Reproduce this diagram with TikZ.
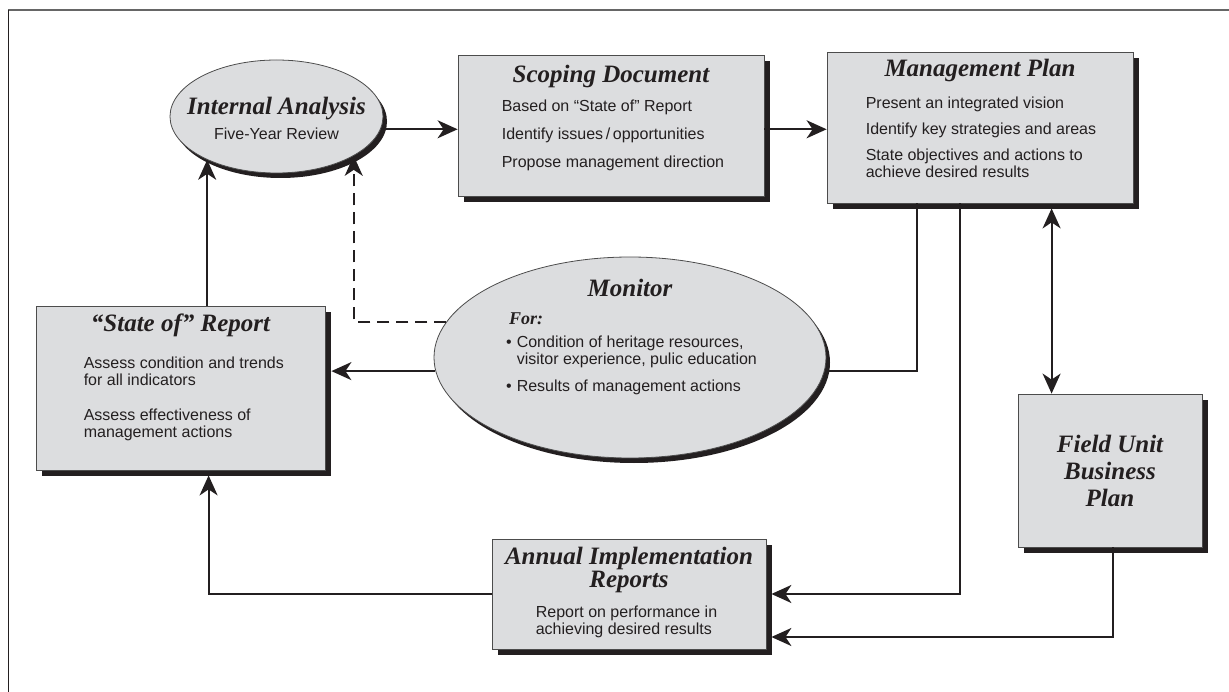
\documentclass[tikz,border=0pt]{standalone}
\usepackage{fontspec}
\setmainfont{Liberation Serif}
\setsansfont{Liberation Sans}
\usetikzlibrary{arrows.meta,shapes.geometric,shadows,positioning}
\definecolor{boxgray}{HTML}{DCDDDF}
\definecolor{inkblack}{HTML}{231F20}
\newcommand{\headfont}{\fontsize{25}{27}\selectfont\rmfamily\itshape\bfseries}
\newcommand{\bodyfont}{\fontsize{16}{17}\selectfont\sffamily}
\tikzset{every node/.append style={inner sep=0pt, text=inkblack}}

\begin{document}
\begin{tikzpicture}[x=1pt,y=-1pt,
  plate/.style={draw=black!70, line width=0.8pt, fill=boxgray},
  box/.style={plate, drop shadow={shadow xshift=6pt,shadow yshift=-6pt,fill=inkblack,opacity=1}},
  oval/.style={ellipse, plate, drop shadow={shadow xshift=4pt,shadow yshift=-5pt,fill=inkblack,opacity=1}},
  head/.style={font=\headfont},
  body/.style={font=\bodyfont, align=left},
  link/.style={draw=inkblack, line width=2pt},
  arr/.style={link, -{Stealth[length=20pt,width=18pt,inset=6pt]}},
  arrboth/.style={link, {Stealth[length=20pt,width=18pt,inset=6pt]}-{Stealth[length=20pt,width=18pt,inset=6pt]}},
  dasharr/.style={arr, dash pattern=on 12pt off 7pt}]
  \useasboundingbox (0,0) rectangle (1229,692);

  % frame
  \draw[black!60, line width=1.6pt] (8,10) -- (1229,10);
  \draw[inkblack, line width=1.2pt] (8.5,10) -- (8.5,692);

  % shapes
  \node[oval, minimum width=213pt, minimum height=113pt] (ia) at (276.5,116.5) {};
  \node[box, minimum width=306pt, minimum height=141pt] (sd) at (611,125.5) {};
  \node[box, minimum width=306pt, minimum height=151pt] (mp) at (980,127.5) {};
  \node[box, minimum width=289pt, minimum height=164pt] (st) at (180.5,388) {};
  \node[oval, minimum width=392pt, minimum height=201pt] (mon) at (630,357.5) {};
  \node[box, minimum width=274pt, minimum height=110pt] (ann) at (629,594) {};
  \node[box, minimum width=184pt, minimum height=153pt, head, align=center] (fu) at (1110,470.5)
       {Field Unit\\Business\\Plan};

  % texts
  \node[head, anchor=base] (iahead) at ([yshift=1.5pt]ia.center) {Internal Analysis};
  \node[body, anchor=base] (iabody) at ([yshift=-23.5pt]ia.center) {Five-Year Review};

  \node[head, anchor=base] (sdhead) at ([yshift=-28pt]sd.north) {Scoping Document};
  \node[body, anchor=north west] (sdbody) at ([xshift=44pt,yshift=-45pt]sd.north west)
       {Based on “State of” Report\\[11pt]Identify issues\,/\,opportunities\\[11pt]Propose management direction};

  \node[head, anchor=base] (mphead) at ([yshift=-25pt]mp.north) {Management Plan};
  \node[body, anchor=north west] (mpbody) at ([xshift=39pt,yshift=-45pt]mp.north west)
       {Present an integrated vision\\[9pt]Identify key strategies and areas\\[9pt]State objectives and actions to\\achieve desired results};

  \node[head, anchor=base] (sthead) at ([yshift=-26pt]st.north) {“State of” Report};
  \node[body, anchor=north west] (stbody) at ([xshift=48pt,yshift=-51pt]st.north west)
       {Assess condition and trends\\for all indicators\\[18pt]Assess effectiveness of\\management actions};

  \node[head, anchor=base] (monhead) at ([yshift=-40pt]mon.north) {Monitor};
  \node[head, font=\fontsize{18}{20}\selectfont\rmfamily\itshape\bfseries, anchor=base west]
       (monfor) at ([xshift=-121pt,yshift=32.5pt]mon.center) {For:};
  \node[body, anchor=north west] (monbody) at ([xshift=-124pt,yshift=22.5pt]mon.center)
       {\begin{tabular}{@{}l@{\hspace{5pt}}l@{}}
        \textbullet & Condition of heritage resources,\\
                    & visitor experience, pulic education\\[10pt]
        \textbullet & Results of management actions
        \end{tabular}};

  \node[head, anchor=north, align=center, font=\fontsize{25}{23}\selectfont\rmfamily\itshape\bfseries]
       (annhead) at ([yshift=-8pt]ann.north) {Annual Implementation\\Reports};
  \node[body, anchor=north west] (annbody) at ([xshift=44pt,yshift=-67pt]ann.north west)
       {Report on performance in\\achieving desired results};

  % connectors
  \coordinate (stedge) at ([xshift=6pt]st.east);
  \coordinate (stfoot) at ([xshift=173pt,yshift=-5pt]st.south west);
  \coordinate (mpfoot) at ([yshift=-5pt]mp.south);
  \coordinate (fulink) at ([xshift=34pt]fu.north west);
  \coordinate (annin)  at ([xshift=5pt]ann.east);
  \coordinate (annlow) at ([xshift=5pt,yshift=-43pt]ann.east);

  \draw[arr] (ia.-7) -- (ia.-7 -| sd.west);
  \draw[arr] (ia.-7 -| sd.east) -- (ia.-7 -| mp.west);
  \draw[arr] (mon.184) -- (mon.184 -| stedge);
  \draw[link] (mon.-4) -| ([xshift=90pt]mp.south west);
  \draw[arr] ([xshift=133pt]mp.south west) |- (annin);
  \draw[arr] ([xshift=95pt]fu.south west) |- (annlow);
  \draw[arrboth] (fulink) -- (fulink |- mpfoot);
  \draw[arr] (ann.west) -| (stfoot);
  \draw[arr] (ia.212 |- st.north) -- (ia.212);
  \draw[dasharr] (mon.169) -| (ia.-27);
\end{tikzpicture}
\end{document}
